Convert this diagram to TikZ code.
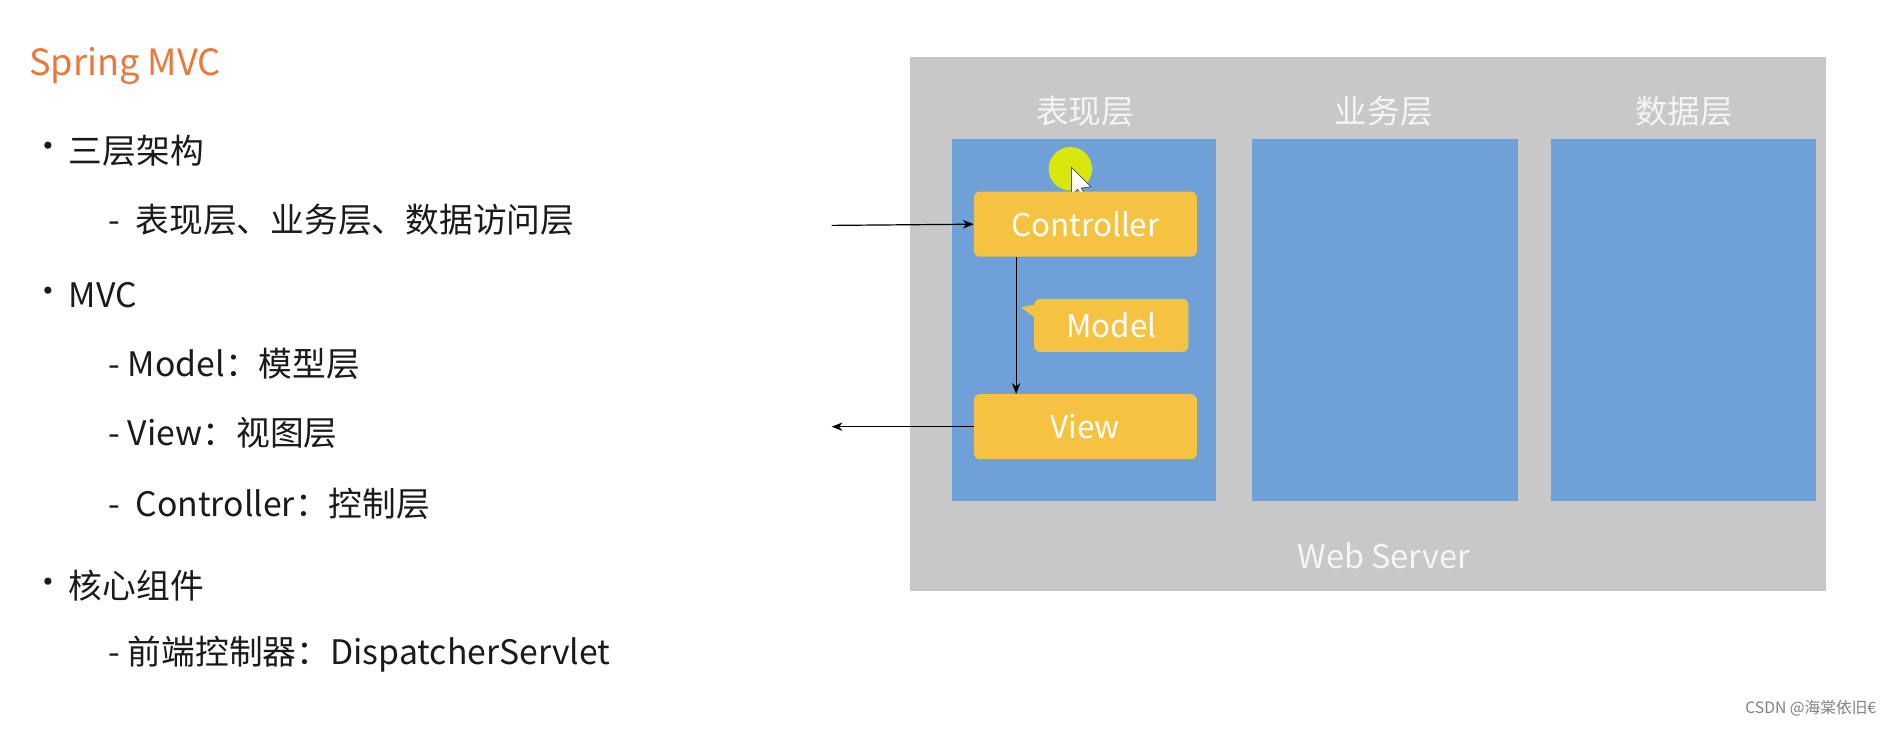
\documentclass[tikz,border=0pt]{standalone}
\usepackage{fontspec}
\setmainfont{Noto Sans CJK SC}
\usetikzlibrary{arrows.meta}
\definecolor{gr}{HTML}{C8C8C8}
\definecolor{bl}{HTML}{6FA0D8}
\definecolor{yl}{HTML}{F5C242}
\definecolor{org}{HTML}{E8793A}
\definecolor{txt}{HTML}{1A1A1A}
\begin{document}
\begin{tikzpicture}[x=1pt,y=-1pt,
  bt/.style={anchor=west,inner sep=0,text=txt,font=\fontsize{28}{30}\selectfont},
  hd/.style={text=white!92!gray,font=\fontsize{27}{30}\selectfont},
  panel/.style={fill=bl,draw=none},
  yb/.style={fill=yl,draw=none,rounded corners=5pt,text=white,font=\fontsize{26}{30}\selectfont},
  arr/.style={-{Stealth[length=9pt,width=7pt]},line width=1pt}]
\useasboundingbox (0,0) rectangle (1568,604);
\fill[white] (0,0) rectangle (1568,604);
\node[anchor=west,inner sep=0,text=org,font=\fontsize{30}{32}\selectfont] (title) at (24,55) {Spring MVC};
\foreach \y in {125,245,486} \node[bt] at (26,\y) {•};
\node[bt] (b1) at (57,125) {三层架构};
\node[bt] (b11) at (90,182) {-\ \ 表现层、业务层、数据访问层};
\node[bt] (b2) at (57,245) {MVC};
\node[bt] (b21) at (90,302) {- Model：模型层};
\node[bt] (b22) at (90,359) {- View：视图层};
\node[bt] (b23) at (90,418) {-\ \ Controller：控制层};
\node[bt] (b3) at (57,486) {核心组件};
\node[bt] (b31) at (90,543) {- 前端控制器：DispatcherServlet};
% server
\fill[gr] (755,47) rectangle (1515,490);
\node[hd] (h1) at (900,92) {表现层};
\node[hd] (h2) at (1148,92) {业务层};
\node[hd] (h3) at (1397,92) {数据层};
\node[hd] (ws) at (1148,461) {Web Server};
\fill[panel] (790,115) rectangle (1009,416);
\fill[panel] (1039,115) rectangle (1259,416);
\fill[panel] (1287,115) rectangle (1507,416);
% cursor
\fill[yellow!75!green!60!yellow] (888,140) circle (18);
\filldraw[fill=white,draw=black!70,line width=0.6pt] (889,139) -- (889,162) -- (894,157) -- (899,166) -- (902,164) -- (897,156) -- (905,155) -- cycle;
% boxes
\node[yb,minimum width=185,minimum height=54] (ctrl) at (900.5,186) {Controller};
\node[yb,minimum width=128,minimum height=44] (model) at (922,270) {Model};
\fill[yl] (847,255) -- (862,252) -- (862,266) -- cycle;
\node[yb,minimum width=185,minimum height=54] (view) at (900.5,354) {View};
\coordinate (inL) at (690,187);
\coordinate (outL) at (690,354);
\draw[arr] (inL) -- (ctrl.west);
\draw[arr] (view.west) -- (outL);
\draw[arr] (ctrl.south -| 843,0) -- (view.north -| 843,0);
\node[anchor=east,text=gray,font=\fontsize{13}{15}\selectfont] (wm) at (1560,588) {CSDN @海棠依旧€};
\end{tikzpicture}
\end{document}
